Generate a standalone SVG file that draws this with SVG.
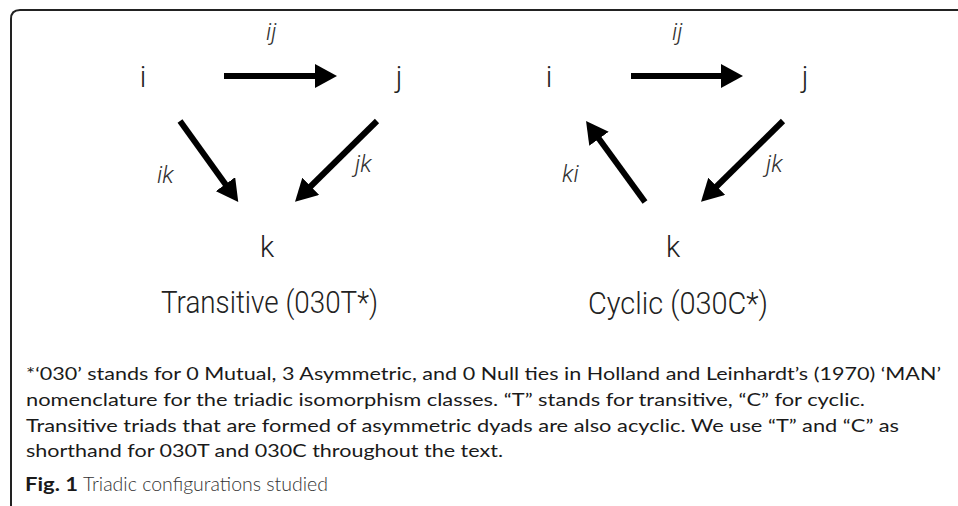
<svg xmlns="http://www.w3.org/2000/svg" width="958" height="506" viewBox="0 0 958 506">
  <style>
    .node { font-family: Roboto, "Liberation Sans", sans-serif; font-weight: 300; font-size: 29px; fill: #222; text-anchor: middle; }
    .elab { font-family: Roboto, "Liberation Sans", sans-serif; font-weight: 300; font-style: italic; font-size: 24px; fill: #333; }
    .title { font-family: Roboto, "Liberation Sans", sans-serif; font-weight: 300; font-size: 32px; fill: #222; }
    .note { font-family: Lato, "Liberation Sans", sans-serif; font-size: 18px; fill: #1a1a1a; }
    .cap { font-family: Lato, "Liberation Sans", sans-serif; font-size: 19px; fill: #333; font-weight: 300; }
    .capb { font-weight: 700; fill: #1a1a1a; }
    .arrow { stroke: #000; stroke-width: 6; fill: none; marker-end: url(#head); }
    .frame { fill: none; stroke: #222; stroke-width: 2; }
  </style>
  <defs>
    <marker id="head" markerUnits="userSpaceOnUse" markerWidth="22" markerHeight="24" viewBox="0 0 22 24" refX="1" refY="12" orient="auto">
      <path d="M0,0 L22,12 L0,24 Z" fill="#000"/>
    </marker>
  </defs>
  <rect width="958" height="506" fill="#fff"/>
  <path class="frame" d="M11,506 L11,19 Q11,10 20,10 L958,10"/>

  <!-- Transitive triad -->
  <g id="t-i"><text class="node" x="143" y="87">i</text></g>
  <g id="t-j"><text class="node" x="399" y="87">j</text></g>
  <g id="t-k"><text class="node" x="267" y="257">k</text></g>
  <g id="t-title"><text class="title" x="161" y="313" textLength="217" lengthAdjust="spacingAndGlyphs">Transitive (030T*)</text></g>

  <!-- Cyclic triad -->
  <g id="c-i"><text class="node" x="549" y="87">i</text></g>
  <g id="c-j"><text class="node" x="805" y="87">j</text></g>
  <g id="c-k"><text class="node" x="673" y="257">k</text></g>
  <g id="c-title"><text class="title" x="588" y="314" textLength="180" lengthAdjust="spacingAndGlyphs">Cyclic (030C*)</text></g>

  <g id="connectors">
    <line class="arrow" x1="224" y1="76" x2="316" y2="76"/>
    <line class="arrow" x1="180" y1="121" x2="226" y2="185"/>
    <line class="arrow" x1="377" y1="121" x2="310" y2="187"/>
    <line class="arrow" x1="631" y1="76" x2="722" y2="76"/>
    <line class="arrow" x1="645" y1="202" x2="598.4" y2="138"/>
    <line class="arrow" x1="783" y1="121" x2="716" y2="187"/>
    <text class="elab" x="266" y="40">ij</text>
    <text class="elab" x="157" y="183">ik</text>
    <text class="elab" x="355" y="172">jk</text>
    <text class="elab" x="672" y="40">ij</text>
    <text class="elab" x="562" y="182">ki</text>
    <text class="elab" x="766" y="172">jk</text>
  </g>

  <g id="footnote">
    <text class="note" x="26" y="380" textLength="915" lengthAdjust="spacingAndGlyphs">*‘030’ stands for 0 Mutual, 3 Asymmetric, and 0 Null ties in Holland and Leinhardt’s (1970) ‘MAN’</text>
    <text class="note" x="26" y="406" textLength="839" lengthAdjust="spacingAndGlyphs">nomenclature for the triadic isomorphism classes. “T” stands for transitive, “C” for cyclic.</text>
    <text class="note" x="26" y="432" textLength="873" lengthAdjust="spacingAndGlyphs">Transitive triads that are formed of asymmetric dyads are also acyclic. We use “T” and “C” as</text>
    <text class="note" x="26" y="457" textLength="477" lengthAdjust="spacingAndGlyphs">shorthand for 030T and 030C throughout the text.</text>
  </g>
  <g id="caption">
    <text class="cap capb" x="25" y="491" textLength="53" lengthAdjust="spacingAndGlyphs">Fig. 1</text>
    <text class="cap" x="83" y="491" textLength="245" lengthAdjust="spacingAndGlyphs">Triadic configurations studied</text>
  </g>
</svg>
